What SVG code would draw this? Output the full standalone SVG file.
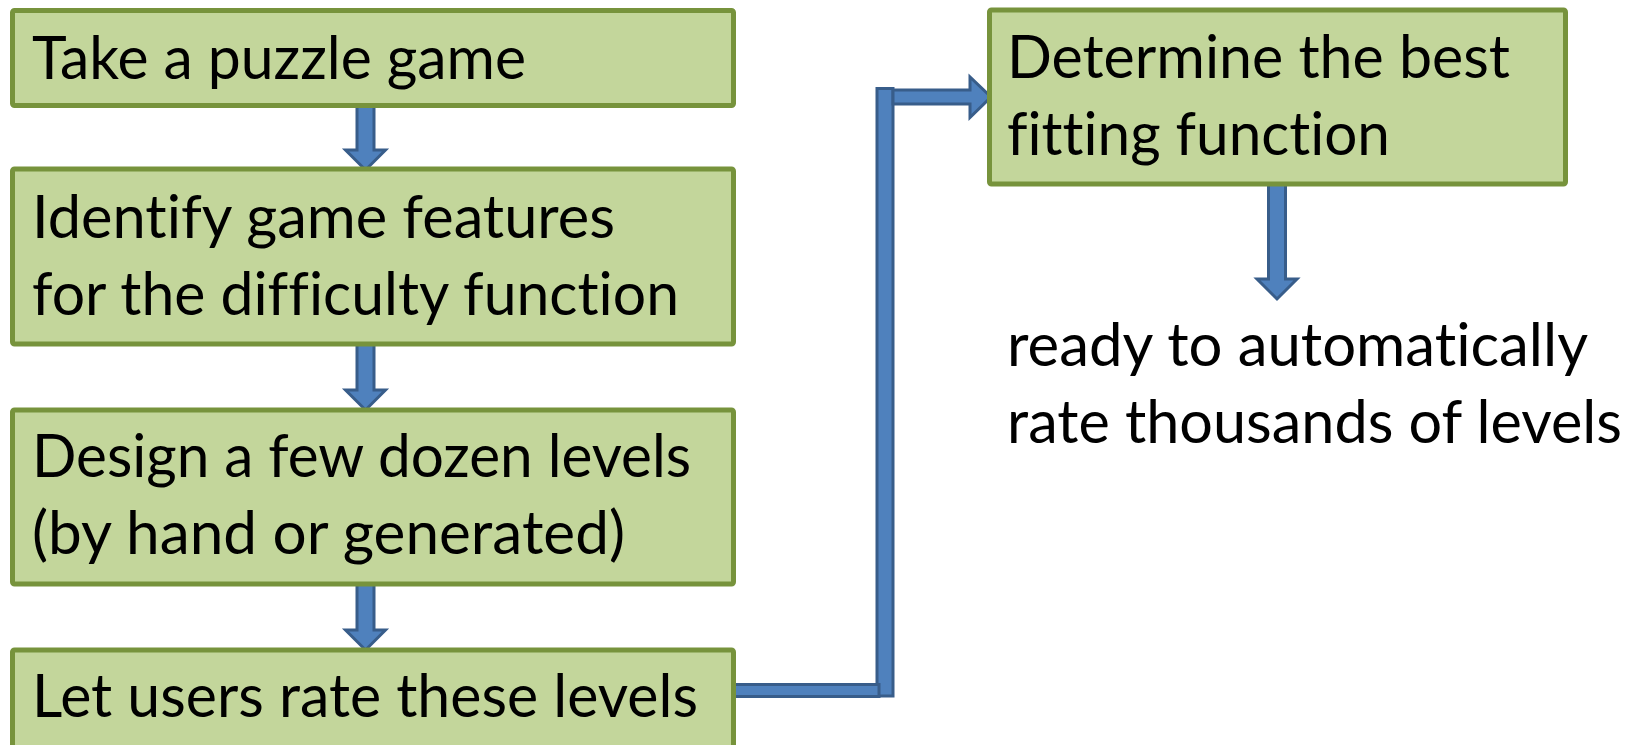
<svg xmlns="http://www.w3.org/2000/svg" width="1639" height="745" viewBox="0 0 1639 745">
<style>
.box{fill:#C3D69B;stroke:#77933C;stroke-width:5}
.arr{fill:#4F81BD;stroke:#385D8A;stroke-width:3;stroke-linejoin:miter}
text{font-family:Lato,"Open Sans",sans-serif;font-size:60px;fill:#000;font-variant-ligatures:none}
</style>
<rect width="1639" height="745" fill="#fff"/>
<g id="connectors">
<polygon class="arr" points="357,104 374,104 374,150 385.5,150 365.5,170 345.5,150 357,150"/>
<polygon class="arr" points="357,344 374,344 374,390 385.5,390 365.5,410 345.5,390 357,390"/>
<polygon class="arr" points="357,584 374,584 374,630 385.5,630 365.5,650 345.5,630 357,630"/>
<polygon class="arr" points="1268.5,184 1285.5,184 1285.5,279 1297,279 1277,299 1257,279 1268.5,279"/>
<rect class="arr" x="877" y="88.5" width="16" height="607.5"/>
<rect class="arr" x="734" y="684.5" width="145" height="12"/>
<polygon class="arr" points="893,90 970,90 970,77 991,97 970,117.5 970,104 893,104"/>
</g>
<g id="n1"><rect class="box" x="12.5" y="10.5" width="721" height="95" rx="2"/><text x="32" y="79" textLength="494" lengthAdjust="spacingAndGlyphs">Take a puzzle game</text></g>
<g id="n2"><rect class="box" x="12.5" y="169" width="721" height="175" rx="2"/><text x="32" y="237.5" textLength="583" lengthAdjust="spacingAndGlyphs">Identify game features</text><text x="32" y="315" textLength="647" lengthAdjust="spacingAndGlyphs">for the difficulty function</text></g>
<g id="n3"><rect class="box" x="12.5" y="410" width="721" height="174" rx="2"/><text x="32" y="477" textLength="659" lengthAdjust="spacingAndGlyphs">Design a few dozen levels</text><text x="32" y="554" textLength="593" lengthAdjust="spacingAndGlyphs">(by hand or generated)</text></g>
<g id="n4"><rect class="box" x="12.5" y="650" width="721" height="120" rx="2"/><text x="32" y="717" textLength="666" lengthAdjust="spacingAndGlyphs">Let users rate these levels</text></g>
<g id="n5"><rect class="box" x="989.5" y="10" width="576" height="174" rx="2"/><text x="1007" y="78" textLength="503" lengthAdjust="spacingAndGlyphs">Determine the best</text><text x="1007" y="155" textLength="383" lengthAdjust="spacingAndGlyphs">fitting function</text></g>
<g id="n6"><text x="1007" y="366" textLength="581" lengthAdjust="spacingAndGlyphs">ready to automatically</text><text x="1007" y="443" textLength="615" lengthAdjust="spacingAndGlyphs">rate thousands of levels</text></g>
</svg>
